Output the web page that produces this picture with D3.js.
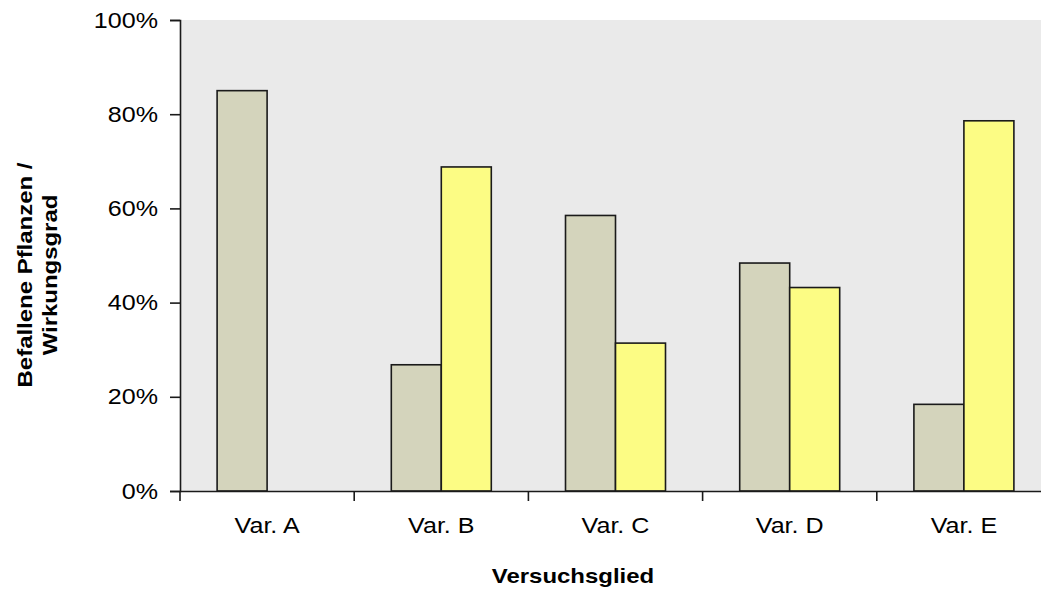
<!DOCTYPE html>
<html><head><meta charset="utf-8">
<script src="https://cdn.jsdelivr.net/npm/d3@7"></script>
<style>body{margin:0;background:#fff}svg{display:block;font-family:"Liberation Sans",Arial,sans-serif}</style>
</head><body>
<svg id="c" width="1041" height="590"></svg>
<script>
const categories = ["Var. A","Var. B","Var. C","Var. D","Var. E"];
const seriesNames = ["Befallene Pflanzen","Wirkungsgrad"];
const befallen = [0.85, 0.268, 0.585, 0.484, 0.184];
const wirkung = [null, 0.688, 0.314, 0.432, 0.786];
const yTicks = [0, 0.2, 0.4, 0.6, 0.8, 1.0];
const colors = ["#d4d4bc", "#fcfc84"];

const svg = d3.select("#c");
const pLeft = 180, pRight = 1051, pTop = 20, pBottom = 491;
const STRETCH = 1.14;

const x0 = d3.scaleBand().domain(categories).range([pLeft, pRight]).paddingInner(0.426).paddingOuter(0.213);
const x1 = d3.scaleBand().domain(seriesNames).range([0, x0.bandwidth()]);
const y = d3.scaleLinear().domain([0, 1]).range([pBottom, pTop]);

svg.append("rect").attr("x", pLeft).attr("y", pTop).attr("width", pRight - pLeft).attr("height", pBottom - pTop).attr("fill", "#eaeaea");

const data = categories.map((c, i) => ({cat: c, vals: [befallen[i], wirkung[i]]}));
const g = svg.append("g");
data.forEach(d => {
  d.vals.forEach((v, j) => {
    if (v == null) return;
    g.append("rect")
      .attr("x", x0(d.cat) + x1(seriesNames[j]))
      .attr("y", y(v))
      .attr("width", x1.bandwidth())
      .attr("height", y(0) - y(v))
      .attr("fill", colors[j])
      .attr("stroke", "#1a1a1a")
      .attr("stroke-width", 1.6);
  });
});

// y axis
const yAxis = svg.append("g").attr("transform", `translate(${pLeft},0)`)
  .call(d3.axisLeft(y).tickValues(yTicks).tickFormat(d3.format(".0%")).tickSize(10).tickPadding(12));
yAxis.select(".domain").attr("stroke", "#1a1a1a").attr("stroke-width", 1.6);
yAxis.selectAll(".tick line").attr("stroke", "#1a1a1a").attr("stroke-width", 1.6);
yAxis.selectAll("text").attr("font-size", 22).attr("fill", "#000").attr("font-family", "Liberation Sans, Arial, sans-serif");

// x axis
const xAxis = svg.append("g").attr("transform", `translate(0,${pBottom})`)
  .call(d3.axisBottom(x0).tickSize(0).tickPadding(26));
xAxis.select(".domain").attr("stroke", "#1a1a1a").attr("stroke-width", 1.6);
xAxis.selectAll("text").attr("font-size", 22).attr("fill", "#000").attr("font-family", "Liberation Sans, Arial, sans-serif");
const step = x0.step();
const boundaries = categories.map(c => x0(c) - x0.paddingOuter() * step).concat([pRight]);
svg.append("g").selectAll("line").data(boundaries).join("line")
  .attr("x1", d => d).attr("x2", d => d).attr("y1", pBottom).attr("y2", pBottom + 10)
  .attr("stroke", "#1a1a1a").attr("stroke-width", 1.6);

// titles
svg.append("text").attr("x", 573).attr("y", 583).attr("text-anchor", "middle")
  .attr("font-size", 21).attr("font-weight", "bold").text("Versuchsglied");
const yt = svg.append("text").attr("transform", "translate(32,275) rotate(-90)").attr("text-anchor", "middle")
  .attr("font-size", 21).attr("font-weight", "bold");
yt.append("tspan").attr("x", 0).attr("y", 0).text("Befallene Pflanzen /");
yt.append("tspan").attr("x", 0).attr("y", 25).text("Wirkungsgrad");

// horizontal stretch of glyphs to match reference proportions
svg.selectAll("text").each(function() {
  const tspans = this.querySelectorAll("tspan");
  const nodes = tspans.length ? Array.from(tspans) : [this];
  nodes.forEach(n => {
    const len = n.getComputedTextLength();
    n.setAttribute("textLength", len * STRETCH);
    n.setAttribute("lengthAdjust", "spacingAndGlyphs");
  });
});
</script>
</body></html>
